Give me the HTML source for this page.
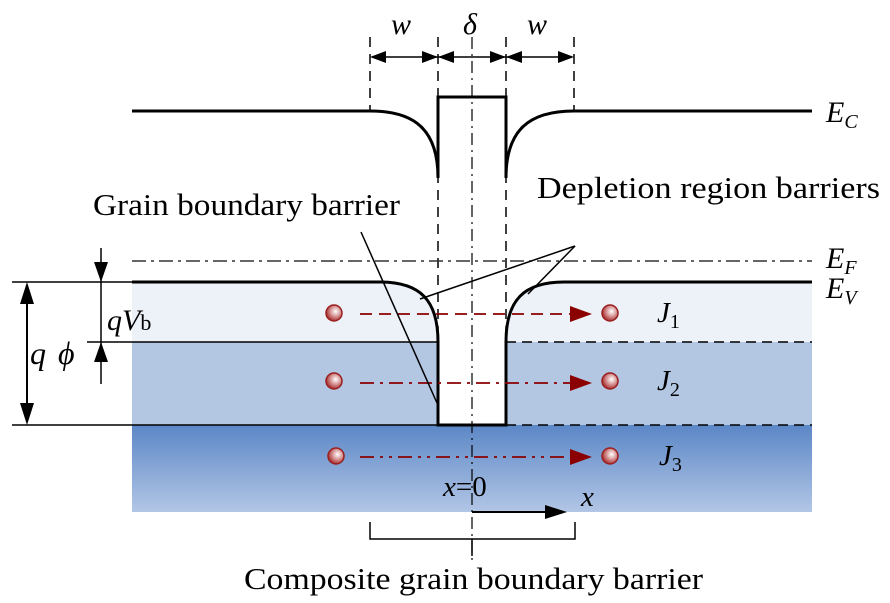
<!DOCTYPE html>
<html><head><meta charset="utf-8"><style>
html,body{margin:0;padding:0;background:#fff;}
svg{display:block;}
text{font-family:"Liberation Serif","Times New Roman",Times,serif;fill:#000;}
</style></head><body>
<svg width="890" height="603" viewBox="0 0 890 603" xmlns="http://www.w3.org/2000/svg" font-family="Liberation Serif, serif">
<defs>
<linearGradient id="g3" x1="0" y1="0" x2="0" y2="1">
<stop offset="0" stop-color="#5b87c6"/><stop offset="1" stop-color="#b2c6e6"/>
</linearGradient>
<radialGradient id="ball" cx="0.6" cy="0.4" r="0.6">
<stop offset="0" stop-color="#fff"/><stop offset="0.5" stop-color="#d99a9a"/><stop offset="1" stop-color="#a83232"/>
</radialGradient>
</defs>
<rect x="132" y="282" width="680" height="60" fill="#edf1f8"/>
<rect x="132" y="342" width="680" height="83" fill="#b3c7e3"/>
<rect x="132" y="425" width="680" height="87" fill="url(#g3)"/>
<path d="M380,282 C420,282 438,300 438,342 L438,425 L506,425 L506,342 C506,300 524,282 564,282 L600,282 L600,270 L370,270 Z" fill="#fff"/>
<g stroke="#000" stroke-width="1.5" stroke-dasharray="10,7" fill="none">
<line x1="370" y1="37" x2="370" y2="110"/>
<line x1="438" y1="37" x2="438" y2="425"/>
<line x1="506" y1="37" x2="506" y2="425"/>
<line x1="574" y1="37" x2="574" y2="110"/>
</g>
<line x1="472" y1="37" x2="472" y2="560" stroke="#000" stroke-width="1.2" stroke-dasharray="12,5,2,5"/>
<g fill="#000">
<path d="M370,57 l16,-6 v12z M438,57 l-16,-6 v12z M438,57 l16,-6 v12z M506,57 l-16,-6 v12z M506,57 l16,-6 v12z M574,57 l-16,-6 v12z"/>
</g>
<line x1="372" y1="57" x2="572" y2="57" stroke="#000" stroke-width="1.5"/>
<text x="391" y="34" font-size="30" font-style="italic">w</text>
<text x="463" y="34" font-size="30" font-style="italic">δ</text>
<text x="527" y="34" font-size="30" font-style="italic">w</text>
<path d="M132,111 L370,111 C415,111 438,130 438,178 M438,178 L438,97 L506,97 L506,178 M506,178 C506,130 529,111 574,111 L812,111" stroke="#000" stroke-width="3" fill="none"/>
<text x="826" y="122" font-size="30" font-style="italic">E<tspan font-size="20" dy="6">C</tspan></text>
<line x1="132" y1="261" x2="812" y2="261" stroke="#333" stroke-width="1.5" stroke-dasharray="14,5,3,5"/>
<text x="826" y="268" font-size="30" font-style="italic">E<tspan font-size="20" dy="6">F</tspan></text>
<path d="M132,282 L380,282 C420,282 438,300 438,342 L438,425 L506,425 L506,342 C506,300 524,282 564,282 L812,282" stroke="#000" stroke-width="3" fill="none"/>
<text x="826" y="298" font-size="30" font-style="italic">E<tspan font-size="20" dy="6">V</tspan></text>
<g stroke="#000" stroke-width="1.5">
<line x1="12" y1="282" x2="132" y2="282"/>
<line x1="87" y1="342" x2="438" y2="342"/>
<line x1="12" y1="425" x2="438" y2="425"/>
</g>
<g stroke="#000" stroke-width="1.5" stroke-dasharray="10,6">
<line x1="506" y1="342" x2="812" y2="342"/>
<line x1="506" y1="425" x2="812" y2="425"/>
</g>
<line x1="27" y1="290" x2="27" y2="417" stroke="#000" stroke-width="2"/>
<path d="M27,282 l-7,22 h14z M27,425 l-7,-22 h14z" fill="#000"/>
<text x="30" y="364" font-size="32" font-style="italic">q</text>
<text x="58" y="364" font-size="32" font-style="italic">ϕ</text>
<line x1="101" y1="248" x2="101" y2="384" stroke="#000" stroke-width="1.5"/>
<path d="M101,282 l-7,-20 h14z M101,342 l-7,20 h14z" fill="#000"/>
<text x="107" y="330" font-size="30" font-style="italic">qV<tspan font-style="normal" font-size="22">b</tspan></text>
<g stroke="#8b0000" stroke-width="1.8" fill="none">
<line x1="360" y1="314" x2="578" y2="314" stroke-dasharray="12,7"/>
<line x1="360" y1="383" x2="578" y2="383" stroke-dasharray="14,6,3,6"/>
<line x1="360" y1="457" x2="578" y2="457" stroke-dasharray="14,6,3,6,3,6"/>
</g>
<path d="M570,306 l22,8 l-22,8z M570,375 l22,8 l-22,8z M570,449 l22,8 l-22,8z" fill="#8b0000"/>
<g fill="url(#ball)" stroke="#9a1f1f" stroke-width="1.5">
<circle cx="334" cy="313" r="8"/><circle cx="334" cy="381" r="8"/><circle cx="336" cy="456" r="8"/>
<circle cx="610" cy="313" r="8"/><circle cx="610" cy="381" r="8"/><circle cx="610" cy="456" r="8"/>
</g>
<text x="657" y="322" font-size="29" font-style="italic">J<tspan font-style="normal" font-size="20" dy="6">1</tspan></text>
<text x="657" y="390" font-size="29" font-style="italic">J<tspan font-style="normal" font-size="20" dy="6">2</tspan></text>
<text x="659" y="465" font-size="29" font-style="italic">J<tspan font-style="normal" font-size="20" dy="6">3</tspan></text>
<g stroke="#000" stroke-width="1.5">
<line x1="361" y1="232" x2="437" y2="403"/>
<line x1="575" y1="246" x2="420" y2="299"/>
<line x1="575" y1="246" x2="528" y2="294"/>
</g>
<text x="93" y="215" font-size="31" textLength="307" lengthAdjust="spacingAndGlyphs">Grain boundary barrier</text>
<text x="537" y="198" font-size="31" textLength="343" lengthAdjust="spacingAndGlyphs">Depletion region barriers</text>
<text x="443" y="496" font-size="29"><tspan font-style="italic">x</tspan>=0</text>
<line x1="472" y1="512" x2="550" y2="512" stroke="#000" stroke-width="2"/>
<path d="M567,512 l-22,-7 v14z" fill="#000"/>
<text x="581" y="506" font-size="29" font-style="italic">x</text>
<path d="M370,522 V539 H575 V522 M472,539 V556" stroke="#000" stroke-width="1.5" fill="none"/>
<text x="244" y="589" font-size="31" textLength="459" lengthAdjust="spacingAndGlyphs">Composite grain boundary barrier</text>
</svg>
</body></html>
